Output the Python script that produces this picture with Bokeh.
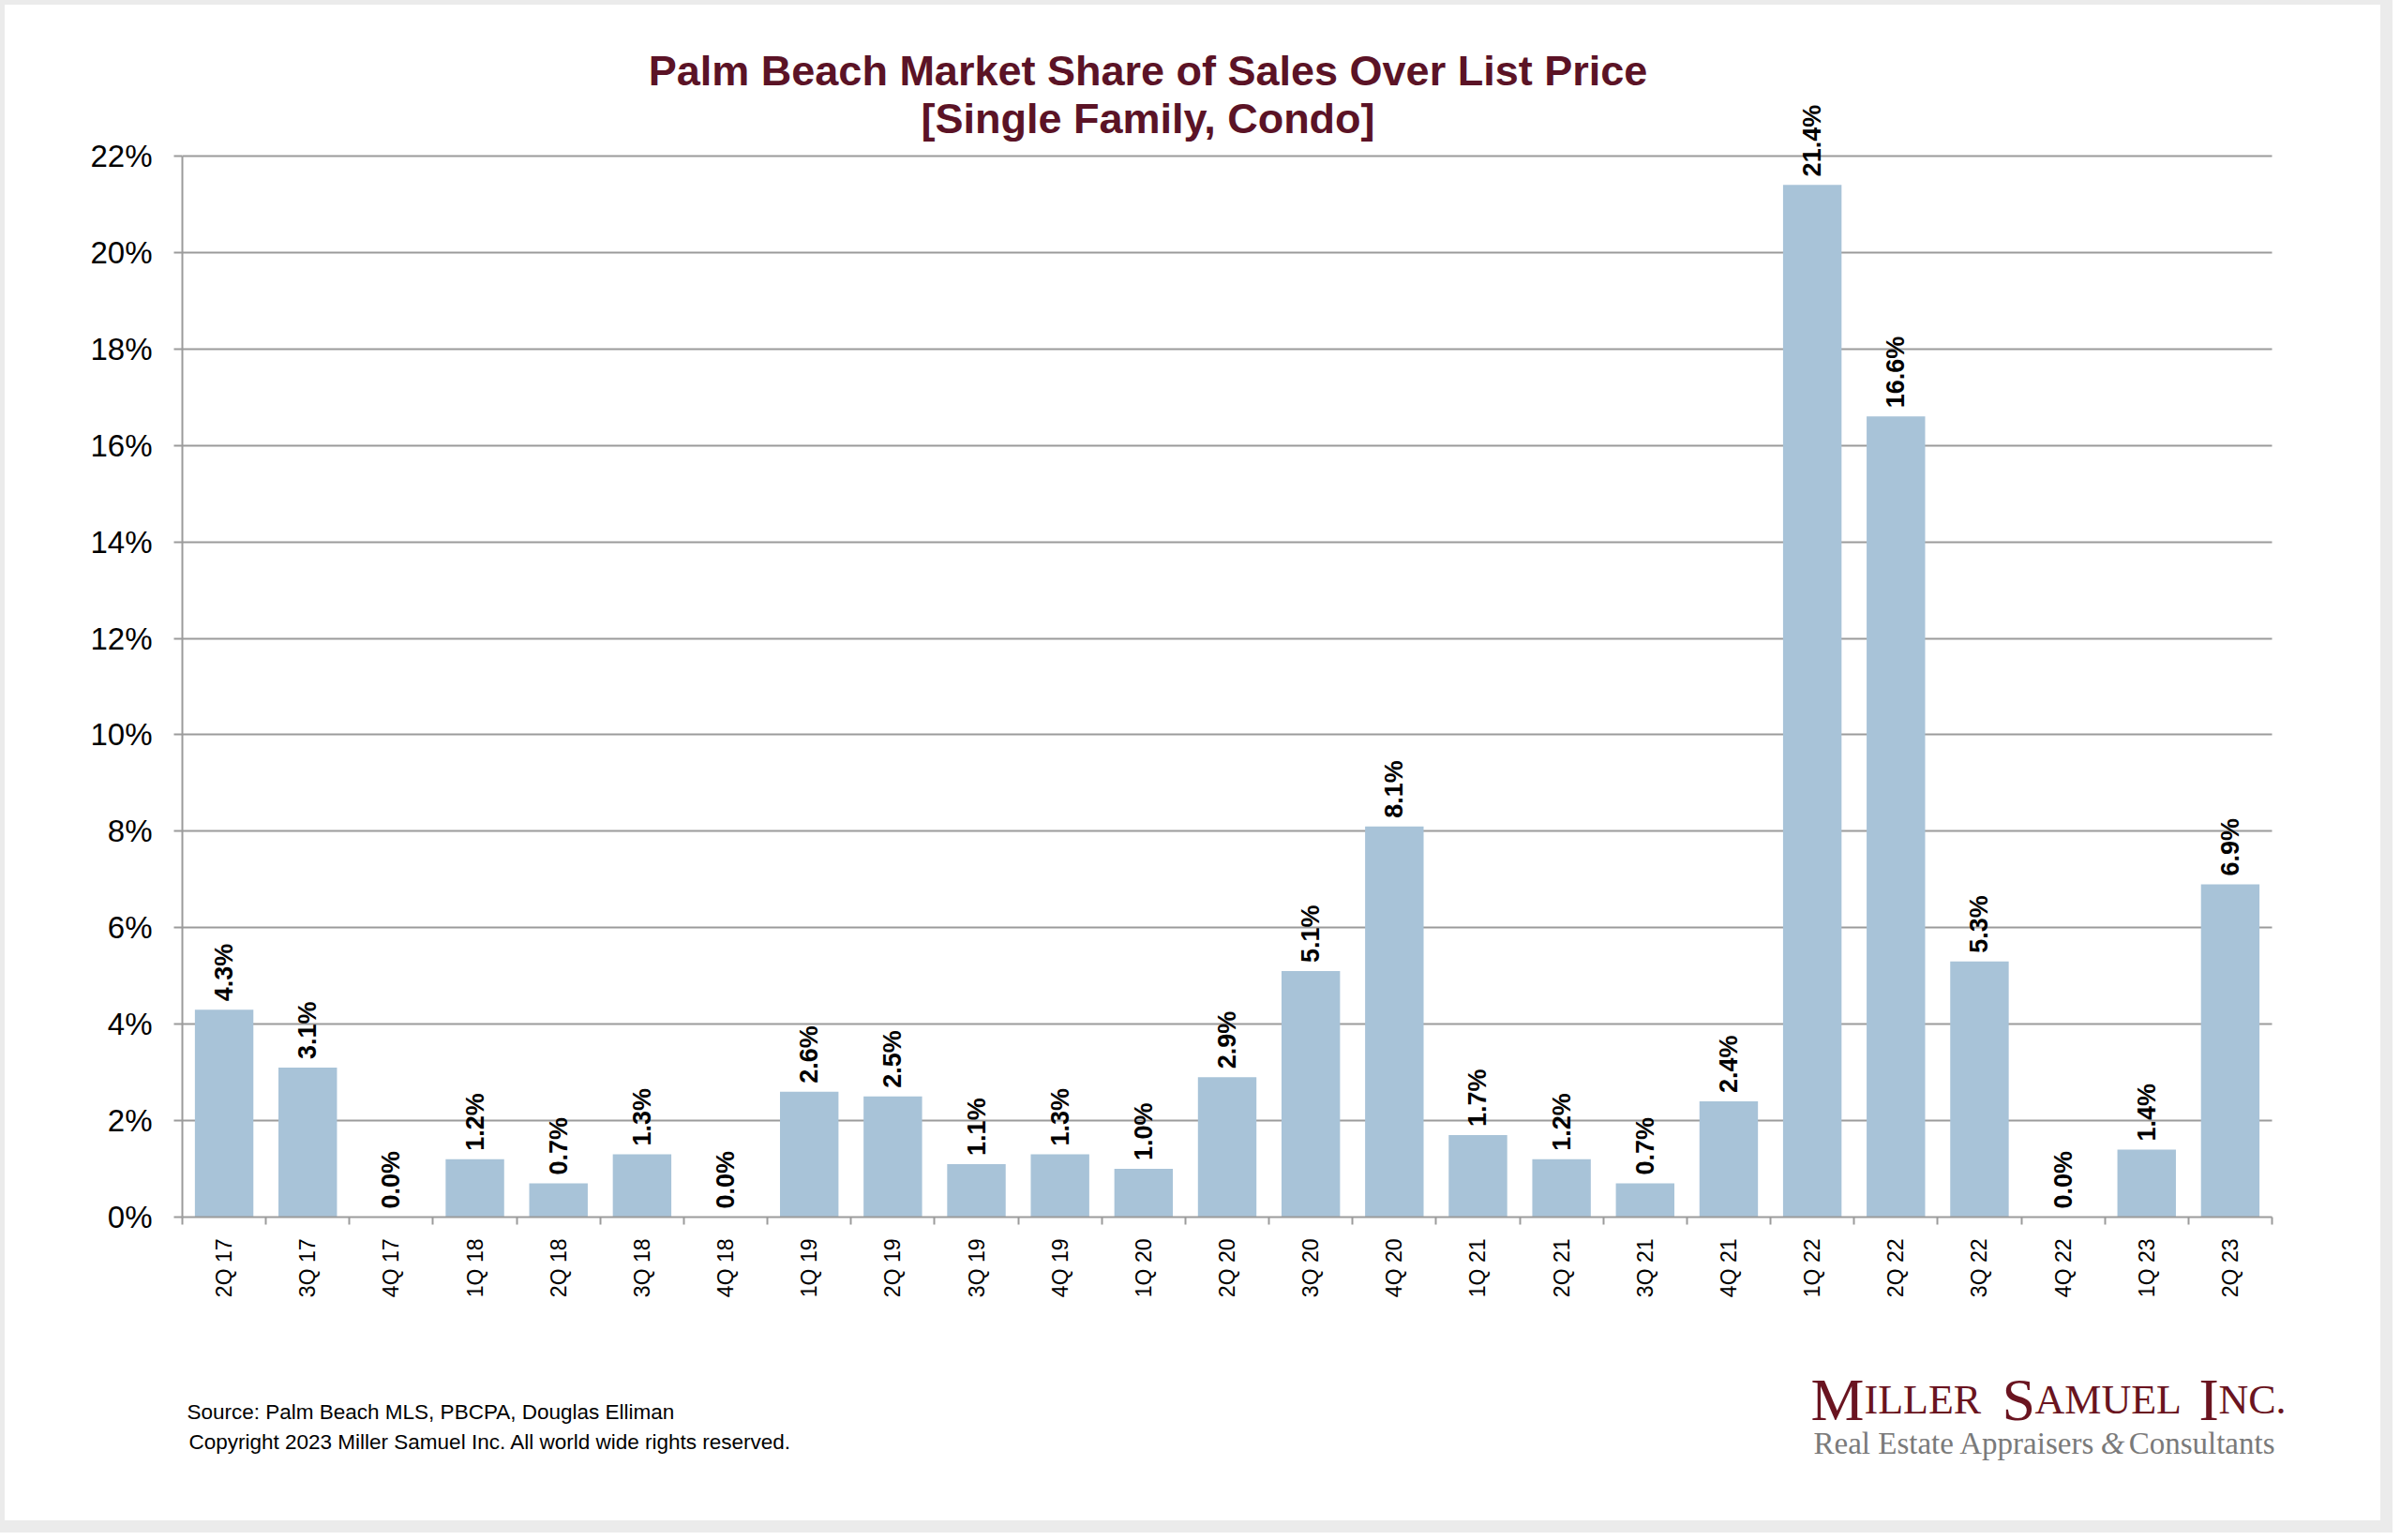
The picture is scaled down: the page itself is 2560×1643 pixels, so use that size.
import math
from bokeh.plotting import figure
from bokeh.models import (Range1d, FixedTicker, PrintfTickFormatter,
                          ColumnDataSource, LabelSet, Label)
from bokeh.core.properties import value
from bokeh.layouts import column
from bokeh.embed import file_html
from bokeh.resources import INLINE

# ---------------- data ----------------
quarters = ["2Q 17", "3Q 17", "4Q 17", "1Q 18", "2Q 18", "3Q 18", "4Q 18",
            "1Q 19", "2Q 19", "3Q 19", "4Q 19", "1Q 20", "2Q 20", "3Q 20",
            "4Q 20", "1Q 21", "2Q 21", "3Q 21", "4Q 21", "1Q 22", "2Q 22",
            "3Q 22", "4Q 22", "1Q 23", "2Q 23"]
share_pct = [4.3, 3.1, 0.0, 1.2, 0.7, 1.3, 0.0,
             2.6, 2.5, 1.1, 1.3, 1.0, 2.9, 5.1,
             8.1, 1.7, 1.2, 0.7, 2.4, 21.4, 16.6,
             5.3, 0.0, 1.4, 6.9]
y_ticks = [0, 2, 4, 6, 8, 10, 12, 14, 16, 18, 20, 22]

title_line1 = "Palm Beach Market Share of Sales Over List Price"
title_line2 = "[Single Family, Condo]"
source_text = "Source: Palm Beach MLS, PBCPA, Douglas Elliman"
copyright_text = "Copyright 2023 Miller Samuel Inc.  All world wide rights reserved."

# ---------------- styling ----------------
SANS = "Liberation Sans"
SERIF = "Liberation Serif"
GRID = "#9b9b9b"
BAR = "#A8C3D8"
MAROON = "#5B1326"
LOGO_RED = "#6A1420"
LOGO_GRAY = "#7a7a7a"

W = 2534
MAIN_H = 1407
FOOT_H = 210
BORDER_L, BORDER_R, BORDER_B = 189, 100, 114
PLOT_W = 2229                    # px spanned by the 25 categories
FRAME_W = W - BORDER_L - BORDER_R
FRAME_H = MAIN_H - BORDER_B      # frame height in px
AXIS_H = 1132                    # px spanned by 0..22 %
y_top = y_ticks[-1] * FRAME_H / AXIS_H   # room above 22% for title/labels

n = len(quarters)
x_lo, x_hi = -0.5, n - 0.5
x_max = x_lo + (x_hi - x_lo) * FRAME_W / PLOT_W   # room at right for logo
xpos = list(range(n))
labels = [f"{v:.1f}%" for v in share_pct]
src = ColumnDataSource(dict(x=xpos, top=share_pct, label=labels, q=quarters))

p = figure(width=W, height=MAIN_H,
           x_range=Range1d(x_lo, x_max), y_range=Range1d(0, y_top),
           output_backend="svg", toolbar_location=None, title_location=None,
           min_border_left=BORDER_L, min_border_right=BORDER_R,
           min_border_top=0, min_border_bottom=BORDER_B)
p.outline_line_color = None
p.background_fill_color = "white"
p.border_fill_color = "white"

p.vbar(x="x", top="top", bottom=0, width=0.7, source=src,
       fill_color=BAR, line_color=None)

# x axis
p.xaxis.bounds = (x_lo, x_hi)
p.xaxis.ticker = FixedTicker(ticks=xpos,
                             minor_ticks=[i - 0.5 for i in range(n + 1)])
p.xaxis.major_label_overrides = {i: q for i, q in enumerate(quarters)}
p.xaxis.major_label_orientation = math.pi / 2
p.xaxis.major_tick_in = 0
p.xaxis.major_tick_out = 0
p.xaxis.major_tick_line_color = None
p.xaxis.minor_tick_in = 0
p.xaxis.minor_tick_out = 8
p.xaxis.minor_tick_line_color = GRID
p.xaxis.minor_tick_line_width = 2
p.xaxis.axis_line_color = GRID
p.xaxis.axis_line_width = 2
p.xaxis.major_label_standoff = 15
p.xaxis.major_label_text_font = SANS
p.xaxis.major_label_text_font_size = "23px"
p.xaxis.major_label_text_color = "black"

# y axis
p.yaxis.ticker = FixedTicker(ticks=y_ticks)
p.yaxis.bounds = (y_ticks[0], y_ticks[-1])
p.yaxis.formatter = PrintfTickFormatter(format="%d%%")
p.yaxis.major_tick_in = 0
p.yaxis.major_tick_out = 9
p.yaxis.major_tick_line_color = GRID
p.yaxis.major_tick_line_width = 2
p.yaxis.minor_tick_line_color = None
p.yaxis.axis_line_color = GRID
p.yaxis.axis_line_width = 2
p.yaxis.major_label_standoff = 23
p.yaxis.major_label_text_font = SANS
p.yaxis.major_label_text_font_size = "33px"
p.yaxis.major_label_text_color = "black"

p.xgrid.visible = False
p.ygrid.grid_line_color = GRID
p.ygrid.grid_line_width = 2
p.ygrid.cross_bounds = (x_lo, x_hi)

# value labels
p.add_layout(LabelSet(x="x", y="top", text="label", source=src,
                      angle=math.pi / 2, text_align="left",
                      text_baseline="middle", y_offset=9,
                      text_font=value(SANS), text_font_style="bold",
                      text_font_size="27px", text_color="black"))


def lab(fig, x, y, text, size, color="black", style="normal", font=SANS,
        align="left", units="screen"):
    fig.add_layout(Label(x=x, y=y, x_units=units, y_units=units,
                         text=text, text_font=font, text_font_size=size,
                         text_color=color, text_font_style=style,
                         text_align=align, text_baseline="alphabetic"))


# title (screen units relative to the plot frame)
lab(p, 1030, 1223, title_line1, "45px", MAROON, "bold", align="center")
lab(p, 1030, 1172, title_line2, "45px", MAROON, "bold", align="center")

# ---------------- footer figure (data units = page pixels) ----------------
page_frame_left = 13 + BORDER_L
page_frame_right = 13 + W - BORDER_R
page_foot_top = 13 + MAIN_H
f = figure(width=W, height=FOOT_H,
           x_range=Range1d(page_frame_left, page_frame_right),
           y_range=Range1d(page_foot_top + FOOT_H, page_foot_top),
           output_backend="svg", toolbar_location=None, title_location=None,
           min_border_left=BORDER_L, min_border_right=BORDER_R,
           min_border_top=0, min_border_bottom=0,
           x_axis_type=None, y_axis_type=None)
f.outline_line_color = None
f.grid.visible = False
f.background_fill_color = "white"
f.border_fill_color = "white"

lab(f, 207, 1514, source_text, "22.5px", units="data")
lab(f, 209, 1546, copyright_text, "22.5px", units="data")

# logo, imitating small capitals
for x, t, s in [(1939, "M", "64px"), (1996, "ILLER", "44px"),
                (2143, "S", "64px"), (2178, "AMUEL", "44px"),
                (2353, "I", "64px"), (2374, "NC.", "44px")]:
    lab(f, x, 1501, t, s, LOGO_RED, font=SERIF, units="data")
lab(f, 1942, 1547, "Real Estate Appraisers", "33px", LOGO_GRAY, font=SERIF,
    units="data")
lab(f, 2261, 1547, "&", "33px", LOGO_GRAY, "italic", font=SERIF,
    align="center", units="data")
lab(f, 2434, 1547, "Consultants", "33px", LOGO_GRAY, font=SERIF,
    align="right", units="data")

page = column(p, f, spacing=0,
              styles={"margin": "-8px", "padding": "13px",
                      "background-color": "white",
                      "box-shadow": "inset 0 0 0 13px #ebebeb"})

open("out.html", "w").write(file_html(page, INLINE))
